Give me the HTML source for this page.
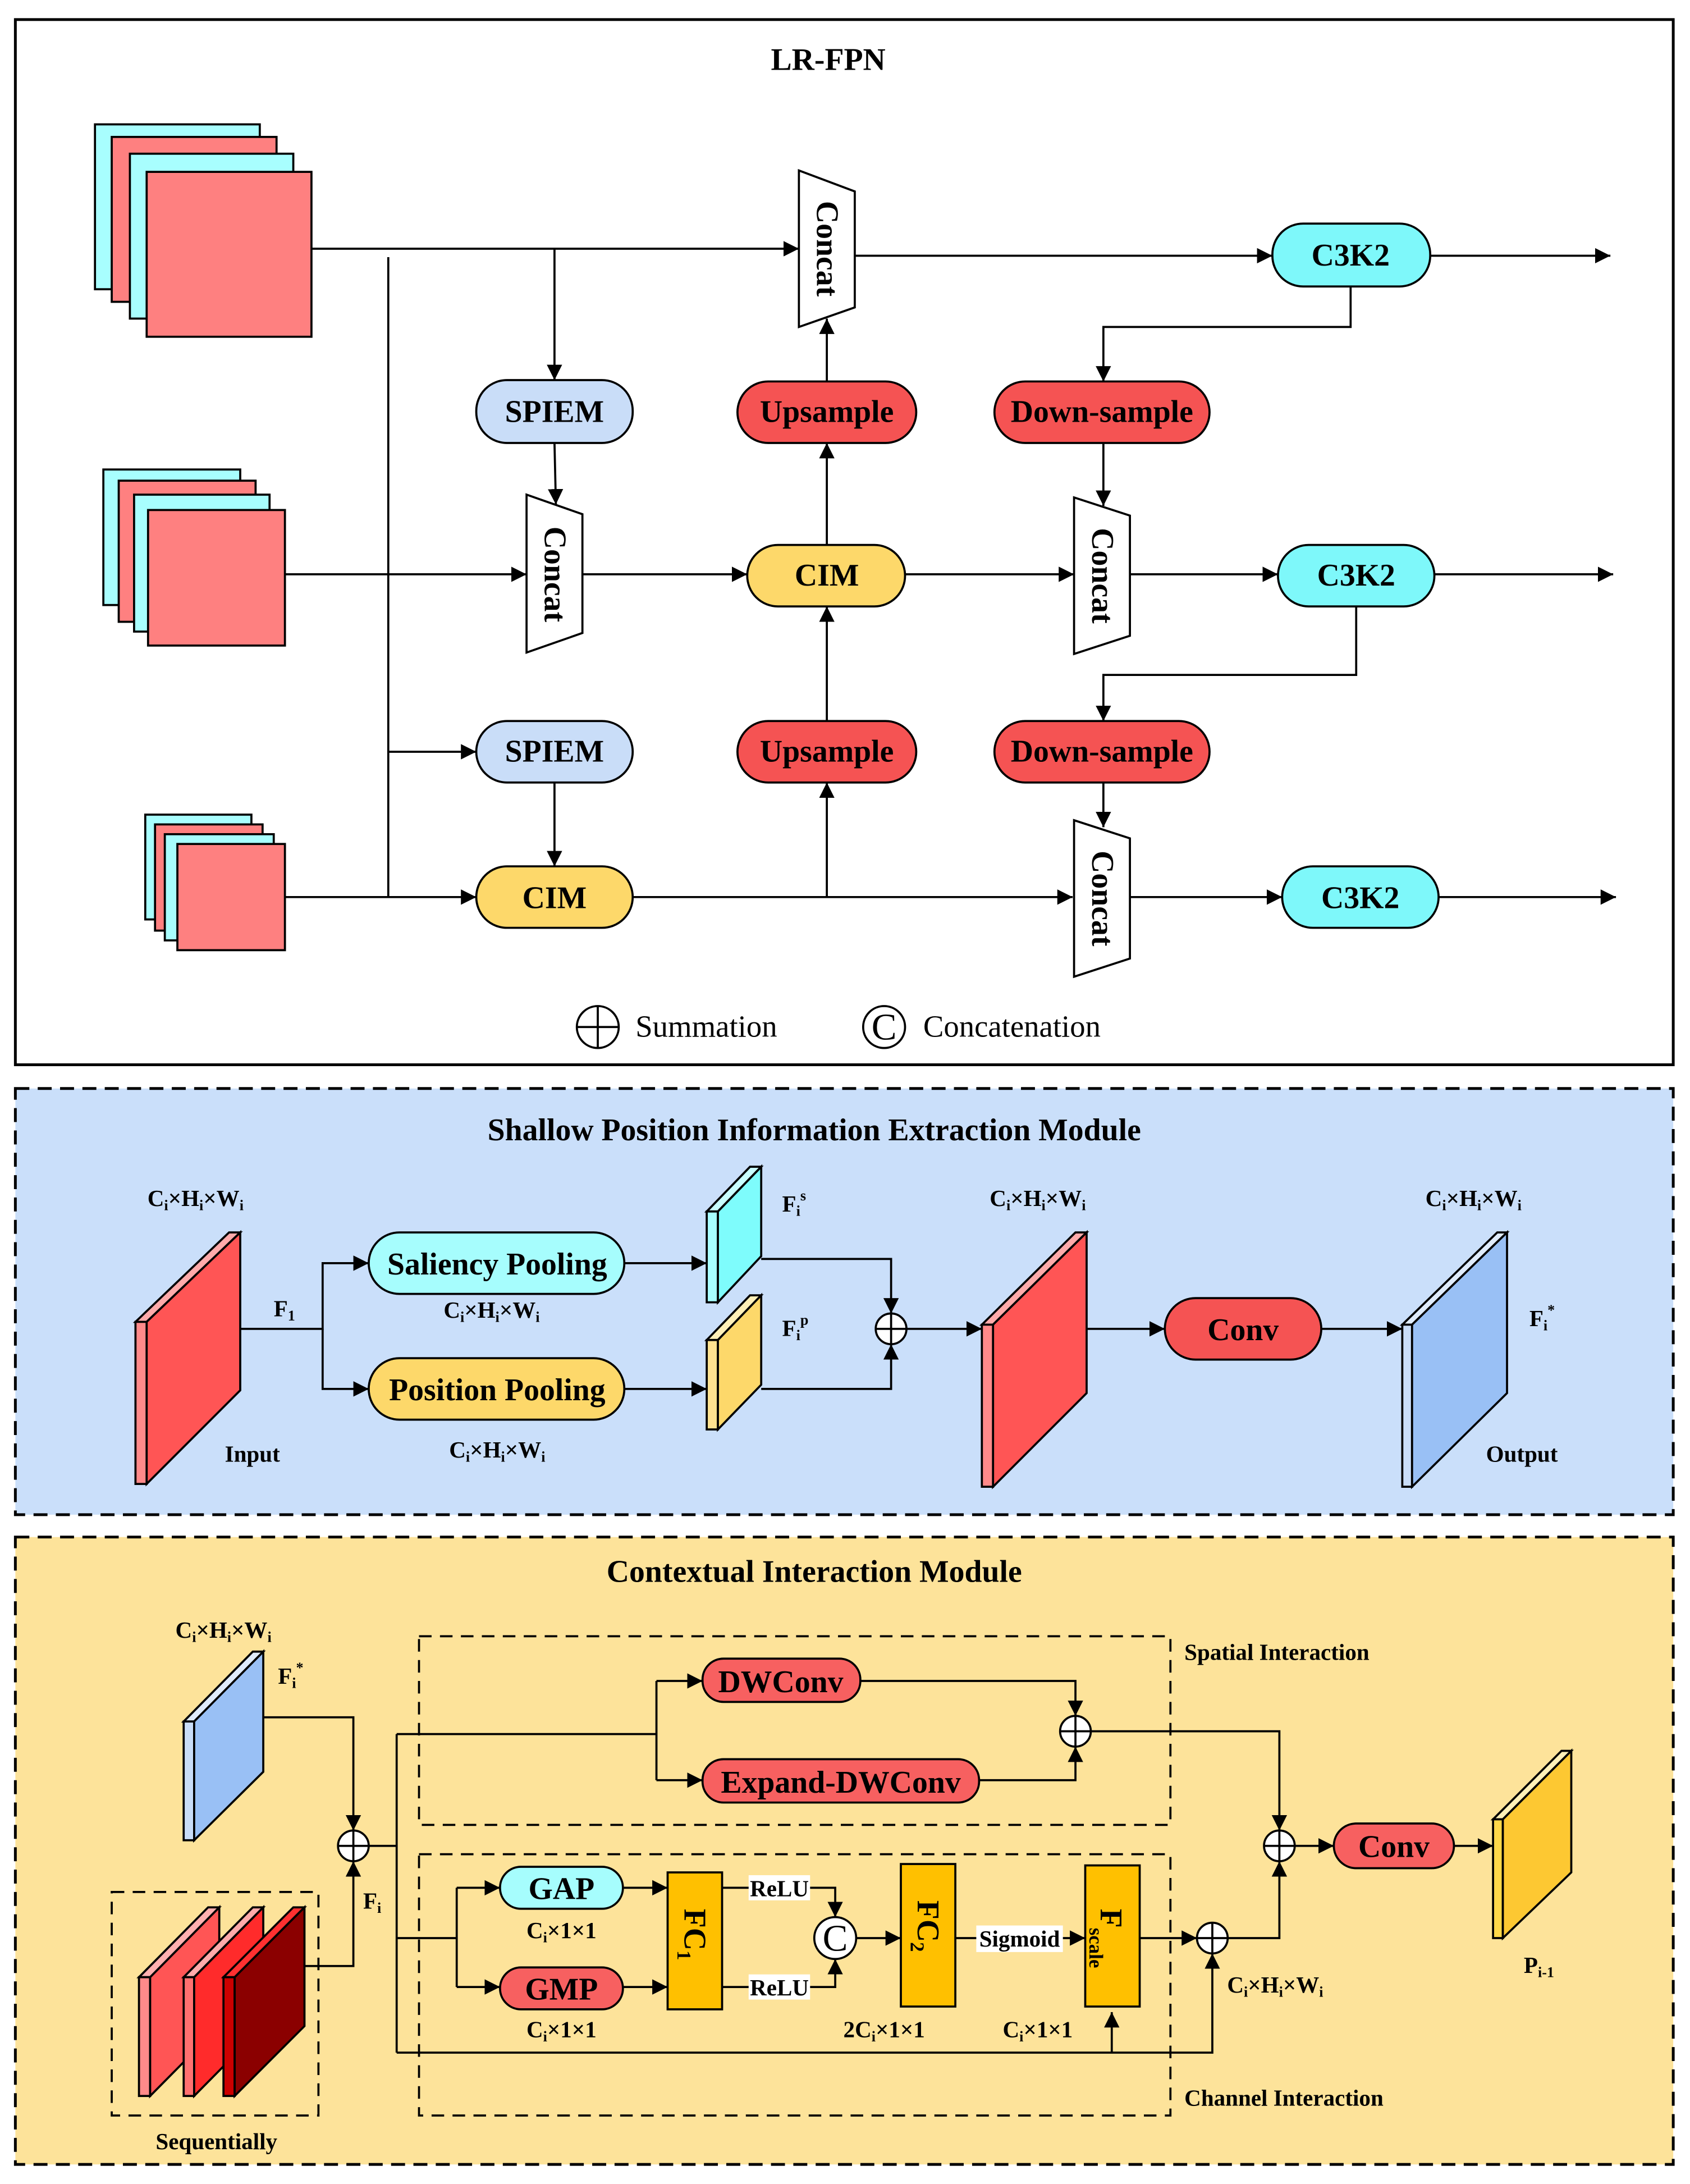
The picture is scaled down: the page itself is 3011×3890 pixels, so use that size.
<!DOCTYPE html>
<html><head><meta charset="utf-8"><style>
html,body{margin:0;padding:0;background:#fff}
svg{display:block}
text{font-family:"Liberation Serif",serif;font-weight:bold;fill:#000}
text.n{font-weight:normal}
</style></head><body>
<svg width="3011" height="3890" viewBox="0 0 1210 1563" preserveAspectRatio="none" xmlns="http://www.w3.org/2000/svg">
<defs>
<marker id="a" viewBox="0 0 10 10" refX="10" refY="5" markerWidth="11" markerHeight="11" markerUnits="userSpaceOnUse" orient="auto"><path d="M0,0 L10,5 L0,10 z" fill="#000"/></marker>
</defs>
<g stroke="#000" stroke-width="1.5" fill="none">
<rect x="11" y="14" width="1187" height="748" fill="#fff" stroke-width="2"/>
</g>
<text x="593" y="50" font-size="22.4" text-anchor="middle">LR-FPN</text>
<g stroke="#000" stroke-width="1.5">
<rect x="68" y="89" width="118" height="118" fill="#a8fefe"/>
<rect x="80" y="98" width="118" height="118" fill="#fe8080"/>
<rect x="93" y="110" width="117" height="118" fill="#a8fefe"/>
<rect x="105" y="123" width="118" height="118" fill="#fe8080"/>
<rect x="74" y="336" width="98" height="97" fill="#a8fefe"/>
<rect x="85" y="344" width="98" height="101" fill="#fe8080"/>
<rect x="96" y="354" width="97" height="98" fill="#a8fefe"/>
<rect x="106" y="365" width="98" height="97" fill="#fe8080"/>
<rect x="104" y="583" width="76" height="75" fill="#a8fefe"/>
<rect x="111" y="590" width="77" height="76" fill="#fe8080"/>
<rect x="118" y="597" width="78" height="76" fill="#a8fefe"/>
<rect x="127" y="604" width="77" height="76" fill="#fe8080"/>
<polygon points="572,122 612,137 612,220 572,234" fill="#fff"/>
<polygon points="377,354 417,368 417,453 377,467" fill="#fff"/>
<polygon points="769,356 809,369 809,455 769,468" fill="#fff"/>
<polygon points="769,587 809,600 809,686 769,699" fill="#fff"/>
<rect x="341" y="272" width="112" height="45" rx="22" fill="#c9ddf8"/>
<rect x="528" y="273" width="128" height="44" rx="22" fill="#f55353"/>
<rect x="712" y="273" width="154" height="44" rx="22" fill="#f55353"/>
<rect x="911" y="160" width="113" height="45" rx="22" fill="#7ef8fa"/>
<rect x="535" y="390" width="113" height="44" rx="22" fill="#fdd86a"/>
<rect x="915" y="390" width="112" height="44" rx="22" fill="#7ef8fa"/>
<rect x="341" y="516" width="112" height="44" rx="22" fill="#c9ddf8"/>
<rect x="528" y="516" width="128" height="44" rx="22" fill="#f55353"/>
<rect x="712" y="516" width="154" height="44" rx="22" fill="#f55353"/>
<rect x="341" y="620" width="112" height="44" rx="22" fill="#fdd86a"/>
<rect x="918" y="620" width="112" height="44" rx="22" fill="#7ef8fa"/>
</g>
<g stroke="#000" stroke-width="1.5" fill="none">
<path d="M223,178 H572" marker-end="url(#a)"/>
<path d="M397,178 V272" marker-end="url(#a)"/>
<path d="M612,183 H911" marker-end="url(#a)"/>
<path d="M1024,183 H1153" marker-end="url(#a)"/>
<path d="M967,205 V234 H790 V273" marker-end="url(#a)"/>
<path d="M592,273 V228" marker-end="url(#a)"/>
<path d="M204,411 H377" marker-end="url(#a)"/>
<path d="M397,317 L398,361" marker-end="url(#a)"/>
<path d="M417,411 H535" marker-end="url(#a)"/>
<path d="M592,390 V317" marker-end="url(#a)"/>
<path d="M648,411 H769" marker-end="url(#a)"/>
<path d="M790,317 V362" marker-end="url(#a)"/>
<path d="M809,411 H915" marker-end="url(#a)"/>
<path d="M1027,411 H1155" marker-end="url(#a)"/>
<path d="M971,434 V483 H790 V516" marker-end="url(#a)"/>
<path d="M204,642 H341" marker-end="url(#a)"/>
<path d="M278,184 V642"/>
<path d="M278,538 H341" marker-end="url(#a)"/>
<path d="M397,560 V620" marker-end="url(#a)"/>
<path d="M453,642 H768" marker-end="url(#a)"/>
<path d="M592,642 V560" marker-end="url(#a)"/>
<path d="M592,516 V434" marker-end="url(#a)"/>
<path d="M790,560 V592" marker-end="url(#a)"/>
<path d="M809,642 H918" marker-end="url(#a)"/>
<path d="M1030,642 H1157" marker-end="url(#a)"/>
<circle cx="428" cy="735" r="15" fill="#fff"/>
<path d="M413,735 H443 M428,720 V750"/>
<circle cx="633" cy="735" r="15" fill="#fff"/>
</g>
<g font-size="22.4" text-anchor="middle">
<text x="397" y="302">SPIEM</text>
<text x="592" y="302">Upsample</text>
<text x="789" y="302">Down-sample</text>
<text x="967" y="190">C3K2</text>
<text x="592" y="419">CIM</text>
<text x="971" y="419">C3K2</text>
<text x="397" y="545">SPIEM</text>
<text x="592" y="545">Upsample</text>
<text x="789" y="545">Down-sample</text>
<text x="397" y="650">CIM</text>
<text x="974" y="650">C3K2</text>
<text transform="translate(585,178) rotate(90)">Concat</text>
<text transform="translate(390,411) rotate(90)">Concat</text>
<text transform="translate(782,412) rotate(90)">Concat</text>
<text transform="translate(782,643) rotate(90)">Concat</text>
<text class="n" x="633" y="744" font-size="27">C</text>
</g>
<text class="n" x="455" y="742" font-size="22">Summation</text>
<text class="n" x="661" y="742" font-size="22">Concatenation</text>

<!-- Section 2 -->
<rect x="11" y="779" width="1187" height="305" fill="#cadffa" stroke="#000" stroke-width="2" stroke-dasharray="10,6"/>
<text x="583" y="816" font-size="22.4" text-anchor="middle">Shallow Position Information Extraction Module</text>
<g stroke="#000" stroke-width="1.5">
<polygon points="97,946 105,946 172,882 164,882" fill="#ffaaaa"/>
<rect x="97" y="946" width="8" height="116" fill="#ff8a8a"/>
<polygon points="105,946 172,882 172,995 105,1062" fill="#ff5555"/>
<polygon points="506,867 514,867 545,835 537,835" fill="#c8ffff"/>
<rect x="506" y="867" width="8" height="65" fill="#a8fefe"/>
<polygon points="514,867 545,835 545,899 514,932" fill="#7efcfc"/>
<polygon points="506,959 514,959 545,927 537,927" fill="#fff0b8"/>
<rect x="506" y="959" width="8" height="64" fill="#ffe290"/>
<polygon points="514,959 545,927 545,991 514,1023" fill="#fdd86a"/>
<polygon points="703,948 711,948 778,882 770,882" fill="#ffaaaa"/>
<rect x="703" y="948" width="8" height="116" fill="#ff8a8a"/>
<polygon points="711,948 778,882 778,997 711,1064" fill="#ff5555"/>
<polygon points="1004,948 1011,948 1079,882 1072,882" fill="#e0ecfc"/>
<rect x="1004" y="948" width="7" height="116" fill="#c9ddf8"/>
<polygon points="1011,948 1079,882 1079,997 1011,1064" fill="#99c0f5"/>
<rect x="264" y="882" width="183" height="44" rx="22" fill="#a6fdfd"/>
<rect x="264" y="972" width="183" height="44" rx="22" fill="#fdd86a"/>
<rect x="834" y="929" width="112" height="44" rx="22" fill="#f55353"/>
</g>
<g stroke="#000" stroke-width="1.5" fill="none">
<path d="M172,951 H231 V904 H264" marker-end="url(#a)"/>
<path d="M231,951 V994 H264" marker-end="url(#a)"/>
<path d="M447,904 H506" marker-end="url(#a)"/>
<path d="M447,994 H506" marker-end="url(#a)"/>
<path d="M545,901 H638 V940" marker-end="url(#a)"/>
<path d="M545,994 H638 V962" marker-end="url(#a)"/>
<circle cx="638" cy="951" r="11" fill="#fff"/>
<path d="M627,951 H649 M638,940 V962"/>
<path d="M649,951 H703" marker-end="url(#a)"/>
<path d="M778,951 H834" marker-end="url(#a)"/>
<path d="M946,951 H1004" marker-end="url(#a)"/>
</g>
<g font-size="22.4" text-anchor="middle">
<text x="356" y="912">Saliency Pooling</text>
<text x="356" y="1002">Position Pooling</text>
<text x="890" y="959">Conv</text>
</g>
<g font-size="16.5">
<text x="140" y="863" text-anchor="middle">C<tspan font-size="10.5" dy="3">i</tspan><tspan dy="-3">×H</tspan><tspan font-size="10.5" dy="3">i</tspan><tspan dy="-3">×W</tspan><tspan font-size="10.5" dy="3">i</tspan></text>
<text x="352" y="943" text-anchor="middle">C<tspan font-size="10.5" dy="3">i</tspan><tspan dy="-3">×H</tspan><tspan font-size="10.5" dy="3">i</tspan><tspan dy="-3">×W</tspan><tspan font-size="10.5" dy="3">i</tspan></text>
<text x="356" y="1043" text-anchor="middle">C<tspan font-size="10.5" dy="3">i</tspan><tspan dy="-3">×H</tspan><tspan font-size="10.5" dy="3">i</tspan><tspan dy="-3">×W</tspan><tspan font-size="10.5" dy="3">i</tspan></text>
<text x="743" y="863" text-anchor="middle">C<tspan font-size="10.5" dy="3">i</tspan><tspan dy="-3">×H</tspan><tspan font-size="10.5" dy="3">i</tspan><tspan dy="-3">×W</tspan><tspan font-size="10.5" dy="3">i</tspan></text>
<text x="1055" y="863" text-anchor="middle">C<tspan font-size="10.5" dy="3">i</tspan><tspan dy="-3">×H</tspan><tspan font-size="10.5" dy="3">i</tspan><tspan dy="-3">×W</tspan><tspan font-size="10.5" dy="3">i</tspan></text>
<text x="196" y="942">F<tspan font-size="10.5" dy="3">1</tspan></text>
<text x="161" y="1046">Input</text>
<text x="1064" y="1046">Output</text>
<text x="560" y="867">F<tspan font-size="10.5" dy="3">i</tspan><tspan font-size="10.5" dy="-11">s</tspan></text>
<text x="560" y="956">F<tspan font-size="10.5" dy="3">i</tspan><tspan font-size="10.5" dy="-11">p</tspan></text>
<text x="1095" y="949">F<tspan font-size="10.5" dy="3">i</tspan><tspan font-size="10.5" dy="-11">*</tspan></text>
</g>

<!-- Section 3 -->
<rect x="11" y="1100" width="1187" height="449" fill="#fde39a" stroke="#000" stroke-width="2" stroke-dasharray="10,6"/>
<text x="583" y="1132" font-size="22.4" text-anchor="middle">Contextual Interaction Module</text>
<g stroke="#000" stroke-width="1.5" fill="none" stroke-dasharray="9,6">
<rect x="80" y="1354" width="148" height="160"/>
<rect x="300" y="1171" width="538" height="135"/>
<rect x="300" y="1327" width="538" height="187"/>
</g>
<g stroke="#000" stroke-width="1.5">
<polygon points="131.5,1232 139,1232 188.5,1182 181,1182" fill="#e0ecfc"/>
<rect x="131.5" y="1232" width="7.5" height="85" fill="#c9ddf8"/>
<polygon points="139,1232 188.5,1182 188.5,1268 139,1317" fill="#99c0f5"/>
<polygon points="99.5,1415 107.5,1415 157,1365 149,1365" fill="#ffb0b0"/>
<rect x="99.5" y="1415" width="8" height="85" fill="#ff8a8a"/>
<polygon points="107.5,1415 157,1365 157,1450 107.5,1500" fill="#ff5555"/>
<polygon points="131.5,1415 139,1415 188.5,1365 181,1365" fill="#ffaaaa"/>
<rect x="131.5" y="1415" width="7.5" height="85" fill="#ff7070"/>
<polygon points="139,1415 188.5,1365 188.5,1450 139,1500" fill="#ff2b2b"/>
<polygon points="160,1415 168,1415 218,1365 210,1365" fill="#ff3030"/>
<rect x="160" y="1415" width="8" height="85" fill="#cc0000"/>
<polygon points="168,1415 218,1365 218,1450 168,1500" fill="#8b0000"/>
<polygon points="1069,1302 1076,1302 1125,1253 1118,1253" fill="#fff0b8"/>
<rect x="1069" y="1302" width="7" height="85" fill="#ffd84a"/>
<polygon points="1076,1302 1125,1253 1125,1340 1076,1387" fill="#fdc832"/>
<rect x="503" y="1187" width="113" height="31" rx="15" fill="#f76060"/>
<rect x="503" y="1259" width="198" height="31" rx="15" fill="#f76060"/>
<rect x="955" y="1305" width="86" height="32" rx="16" fill="#f76060"/>
<rect x="358" y="1336" width="88" height="30" rx="15" fill="#a6fdfd"/>
<rect x="358" y="1408" width="88" height="30" rx="15" fill="#f76060"/>
<rect x="478" y="1340" width="39" height="98" fill="#ffc000"/>
<rect x="645" y="1334" width="39" height="102" fill="#ffc000"/>
<rect x="777" y="1335" width="39" height="101" fill="#ffc000"/>
</g>
<g stroke="#000" stroke-width="1.5" fill="none">
<path d="M188.5,1229 H253 V1310" marker-end="url(#a)"/>
<path d="M218,1407 H253 V1332" marker-end="url(#a)"/>
<circle cx="253" cy="1321" r="11" fill="#fff"/>
<path d="M242,1321 H264 M253,1310 V1332"/>
<path d="M264,1321 H284 M284,1241 V1469 M284,1241 H470 M470,1203 V1274"/>
<path d="M470,1203 H503" marker-end="url(#a)"/>
<path d="M470,1274 H503" marker-end="url(#a)"/>
<path d="M616,1203 H770 V1228" marker-end="url(#a)"/>
<path d="M701,1274 H770 V1250" marker-end="url(#a)"/>
<circle cx="770" cy="1239" r="11" fill="#fff"/>
<path d="M759,1239 H781 M770,1228 V1250"/>
<path d="M781,1239 H916 V1310" marker-end="url(#a)"/>
<circle cx="916" cy="1321" r="11" fill="#fff"/>
<path d="M905,1321 H927 M916,1310 V1332"/>
<path d="M927,1321 H955" marker-end="url(#a)"/>
<path d="M1041,1321 H1069" marker-end="url(#a)"/>
<path d="M284,1387 H327 M327,1351 V1422"/>
<path d="M327,1351 H358" marker-end="url(#a)"/>
<path d="M327,1422 H358" marker-end="url(#a)"/>
<path d="M446,1351 H478" marker-end="url(#a)"/>
<path d="M446,1422 H478" marker-end="url(#a)"/>
<path d="M517,1351 H598 V1372" marker-end="url(#a)"/>
<path d="M517,1422 H598 V1402" marker-end="url(#a)"/>
<circle cx="598" cy="1387" r="15" fill="#fff"/>
<path d="M613,1387 H645" marker-end="url(#a)"/>
<path d="M684,1387 H777" marker-end="url(#a)"/>
<path d="M816,1387 H857" marker-end="url(#a)"/>
<circle cx="868" cy="1387" r="11" fill="#fff"/>
<path d="M857,1387 H879 M868,1376 V1398"/>
<path d="M879,1387 H916 V1332" marker-end="url(#a)"/>
<path d="M284,1469 H868 V1398" marker-end="url(#a)"/>
<path d="M796,1469 V1440" marker-end="url(#a)"/>
</g>
<rect x="536" y="1342" width="44" height="18" fill="#fff"/>
<rect x="536" y="1413" width="44" height="18" fill="#fff"/>
<rect x="699" y="1378" width="62" height="19" fill="#fff"/>
<g font-size="22.4" text-anchor="middle">
<text x="559" y="1211">DWConv</text>
<text x="602" y="1283">Expand-DWConv</text>
<text x="998" y="1329">Conv</text>
<text x="402" y="1359">GAP</text>
<text x="402" y="1431">GMP</text>
<text class="n" x="598" y="1396" font-size="27">C</text>
</g>
<g font-size="22.4">
<text transform="translate(490,1366) rotate(90)">FC<tspan font-size="14" dy="5">1</tspan></text>
<text transform="translate(657,1360) rotate(90)">FC<tspan font-size="14" dy="5">2</tspan></text>
<text transform="translate(788,1366) rotate(90)">F<tspan font-size="14" dy="8">scale</tspan></text>
</g>
<g font-size="16.5">
<text x="558" y="1357" text-anchor="middle">ReLU</text>
<text x="558" y="1428" text-anchor="middle">ReLU</text>
<text x="730" y="1393" text-anchor="middle">Sigmoid</text>
<text x="160" y="1172" text-anchor="middle">C<tspan font-size="10.5" dy="3">i</tspan><tspan dy="-3">×H</tspan><tspan font-size="10.5" dy="3">i</tspan><tspan dy="-3">×W</tspan><tspan font-size="10.5" dy="3">i</tspan></text>
<text x="913" y="1426" text-anchor="middle">C<tspan font-size="10.5" dy="3">i</tspan><tspan dy="-3">×H</tspan><tspan font-size="10.5" dy="3">i</tspan><tspan dy="-3">×W</tspan><tspan font-size="10.5" dy="3">i</tspan></text>
<text x="402" y="1387" text-anchor="middle">C<tspan font-size="10.5" dy="3">i</tspan><tspan dy="-3">×1×1</tspan></text>
<text x="402" y="1458" text-anchor="middle">C<tspan font-size="10.5" dy="3">i</tspan><tspan dy="-3">×1×1</tspan></text>
<text x="633" y="1458" text-anchor="middle">2C<tspan font-size="10.5" dy="3">i</tspan><tspan dy="-3">×1×1</tspan></text>
<text x="743" y="1458" text-anchor="middle">C<tspan font-size="10.5" dy="3">i</tspan><tspan dy="-3">×1×1</tspan></text>
<text x="199" y="1205">F<tspan font-size="10.5" dy="3">i</tspan><tspan font-size="10.5" dy="-11">*</tspan></text>
<text x="260" y="1366">F<tspan font-size="10.5" dy="3">i</tspan></text>
<text x="1091" y="1412">P<tspan font-size="10.5" dy="3">i-1</tspan></text>
<text x="155" y="1538" text-anchor="middle">Sequentially</text>
<text x="848" y="1188">Spatial Interaction</text>
<text x="848" y="1507">Channel Interaction</text>
</g>
</svg>
</body></html>
